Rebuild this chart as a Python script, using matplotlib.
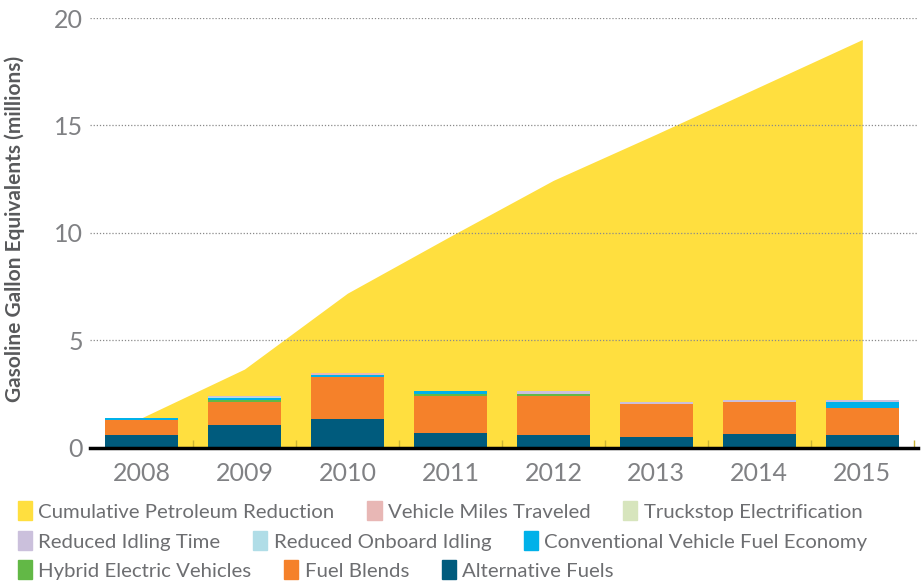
import numpy as np
import matplotlib
matplotlib.use('Agg')
import matplotlib.pyplot as plt
from matplotlib.patches import Patch

years = ['2008', '2009', '2010', '2011', '2012', '2013', '2014', '2015']
cumulative = [1.4, 3.67, 7.2, 9.85, 12.45, 14.6, 16.8, 19.0]

alt_fuels = [0.60, 1.07, 1.35, 0.70, 0.60, 0.51, 0.65, 0.60]
fuel_blends = [0.70, 1.08, 1.95, 1.73, 1.83, 1.55, 1.49, 1.28]
hybrid = [0.0, 0.10, 0.0, 0.10, 0.10, 0.0, 0.0, 0.0]
conv_economy = [0.10, 0.09, 0.11, 0.11, 0.0, 0.0, 0.0, 0.26]
onboard_idling = [0.0, 0.05, 0.0, 0.0, 0.0, 0.0, 0.0, 0.0]
idling_time = [0.0, 0.04, 0.0, 0.0, 0.12, 0.09, 0.09, 0.09]
truckstop = [0.0, 0.0, 0.0, 0.0, 0.0, 0.0, 0.0, 0.0]
vmt = [0.0, 0.0, 0.08, 0.0, 0.0, 0.0, 0.0, 0.0]

series = [
    ('Alternative Fuels', alt_fuels, '#005b7d'),
    ('Fuel Blends', fuel_blends, '#f5812a'),
    ('Hybrid Electric Vehicles', hybrid, '#62b846'),
    ('Conventional Vehicle Fuel Economy', conv_economy, '#00b1e9'),
    ('Reduced Onboard Idling', onboard_idling, '#b0dde7'),
    ('Reduced Idling Time', idling_time, '#cbc0dc'),
    ('Truckstop Electrification', truckstop, '#d7e5bd'),
    ('Vehicle Miles Traveled', vmt, '#e8b7b5'),
]
yellow = '#ffdf3f'
gray = '#6d6e71'

plt.rcParams['font.family'] = ['Lato', 'DejaVu Sans']
fig = plt.figure(figsize=(9.23, 5.81), dpi=100)
ax = fig.add_axes([0.0975, 0.229, 0.897, 0.74])

x = np.arange(len(years))
ax.fill_between(x, 0, cumulative, color=yellow, lw=0, zorder=1)

for yv in [5, 10, 15, 20]:
    ax.axhline(yv, color='#8a8a8a', lw=0.9, ls=(0, (1, 1.5)), zorder=1.5)

bottom = np.zeros(len(years))
for name, vals, col in series:
    ax.bar(x, vals, width=0.71, bottom=bottom, color=col, lw=0, zorder=2)
    bottom += np.array(vals)

ax.set_xlim(-0.5, 7.54)
ax.set_ylim(0, 20)
ax.set_yticks([0, 5, 10, 15, 20])
ax.set_xticks(x)
ax.set_xticklabels(years)
ax.set_xticks(np.arange(0.5, 8, 1), minor=True)
ax.tick_params(axis='x', which='major', length=0, pad=10, labelsize=18, labelcolor='#808184')
ax.tick_params(axis='x', which='minor', length=6, direction='in', color='#c9b233', width=1)
ax.tick_params(axis='y', length=0, pad=5, labelsize=18, labelcolor='#808184')
for s in ['top', 'right', 'left']:
    ax.spines[s].set_visible(False)
ax.spines['bottom'].set_linewidth(2.5)
ax.spines['bottom'].set_color('black')
ax.spines['bottom'].set_zorder(3)
ax.set_ylabel('Gasoline Gallon Equivalents (millions)', fontsize=15,
              fontweight='bold', color='#58595b')
ax.yaxis.set_label_coords(-0.079, 0.51)

colors = {name: col for name, vals, col in series}
colors['Cumulative Petroleum Reduction'] = yellow
rows = [
    ['Cumulative Petroleum Reduction', 'Vehicle Miles Traveled', 'Truckstop Electrification'],
    ['Reduced Idling Time', 'Reduced Onboard Idling', 'Conventional Vehicle Fuel Economy'],
    ['Hybrid Electric Vehicles', 'Fuel Blends', 'Alternative Fuels'],
]
row_y = [0.1205, 0.0688, 0.0189]
for names, yy in zip(rows, row_y):
    handles = [Patch(color=colors[n], label=n) for n in names]
    leg = fig.legend(handles=handles, ncol=3, loc='center left', bbox_to_anchor=(0.0195, yy),
                     frameon=False, fontsize=14.7, handlelength=0.7, handleheight=1.0,
                     handletextpad=0.3, columnspacing=1.6, borderpad=0, borderaxespad=0)
    for t in leg.get_texts():
        t.set_color(gray)

fig.savefig('out.png', dpi=100)
